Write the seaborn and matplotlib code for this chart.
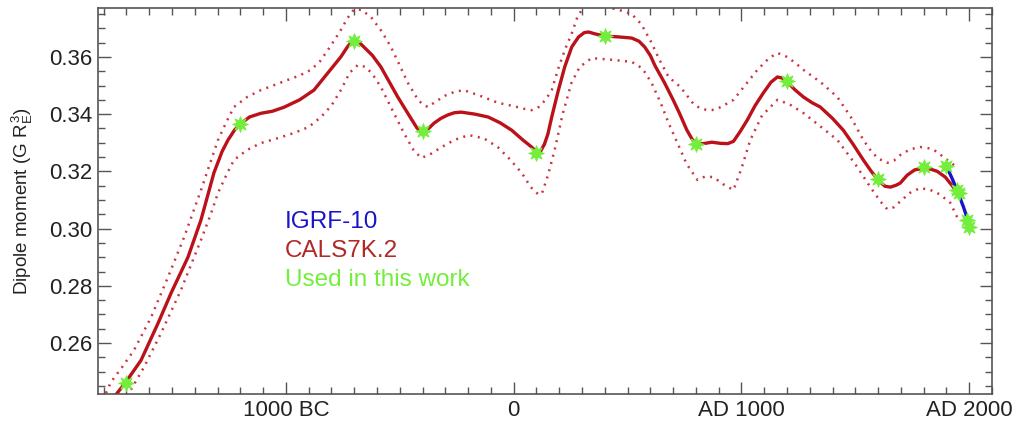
import numpy as np
import pandas as pd
import matplotlib
matplotlib.use("Agg")
import matplotlib.pyplot as plt
import seaborn as sns

# ---- data ----
cals_year = [-1800, -1746, -1706, -1636, -1561, -1504, -1430, -1373, -1316, -1280,
             -1254, -1225, -1200, -1160, -1110, -1060, -1009, -940, -877, -816,
             -759, -730, -706, -680, -658, -620, -583, -509, -447, -425,
             -406, -380, -349, -320, -290, -260, -230, -170, -112, -60,
             -9, 40, 79, 100, 115, 135, 150, 167, 195, 224,
             255, 285, 310, 329, 360, 399, 460, 518, 550, 575,
             600, 620, 662, 700, 728, 760, 785, 807, 840, 870,
             908, 940, 965, 995, 1026, 1060, 1096, 1130, 1158, 1180,
             1202, 1235, 1272, 1310, 1346, 1400, 1447, 1490, 1535, 1570,
             1601, 1630, 1654, 1680, 1697, 1728, 1760, 1798, 1830, 1860,
             1895, 1925, 1950]
cals_val = [0.2375, 0.242, 0.246, 0.254, 0.267, 0.2775, 0.290, 0.303, 0.3195, 0.327,
            0.331, 0.3345, 0.3366, 0.3390, 0.3403, 0.3410, 0.3424, 0.345, 0.3484, 0.3544,
            0.360, 0.3635, 0.3658, 0.3652, 0.3635, 0.3605, 0.3565, 0.346, 0.338, 0.3352,
            0.3337, 0.3345, 0.3369, 0.3385, 0.3397, 0.3405, 0.3407, 0.340, 0.339, 0.337,
            0.3344, 0.331, 0.3285, 0.3268, 0.3266, 0.3295, 0.333, 0.339, 0.348, 0.3565,
            0.3635, 0.367, 0.3685, 0.3687, 0.368, 0.3673, 0.367, 0.3666, 0.3655, 0.3635,
            0.3605, 0.357, 0.351, 0.345, 0.3403, 0.3345, 0.331, 0.3295, 0.3298, 0.3302,
            0.3298, 0.3297, 0.3305, 0.334, 0.338, 0.343, 0.3474, 0.3512, 0.353, 0.3526,
            0.3512, 0.3485, 0.346, 0.344, 0.3425, 0.3385, 0.3344, 0.3295, 0.324, 0.3200,
            0.3169, 0.3148, 0.3145, 0.3152, 0.3159, 0.3187, 0.3205, 0.3211, 0.3208, 0.320,
            0.3180, 0.3150, 0.3125]

upper_year = [-1790, -1768, -1720, -1667, -1592, -1518, -1447, -1373, -1330, -1298,
              -1260, -1228, -1170, -1110, -1050, -991, -940, -890, -850, -816,
              -790, -759, -730, -702, -670, -627, -580, -539, -500, -465,
              -420, -400, -377, -340, -300, -260, -219, -150, -70, 0,
              50, 79, 110, 140, 167, 200, 230, 254, 280, 311,
              350, 400, 460, 518, 560, 605, 640, 680, 732, 790,
              820, 851, 880, 910, 965, 1020, 1070, 1120, 1158, 1200,
              1235, 1272, 1350, 1421, 1480, 1535, 1570, 1600, 1640, 1670,
              1697, 1740, 1785, 1830, 1860, 1886, 1920, 1952]
upper_val = [0.2425, 0.2464, 0.2515, 0.2575, 0.269, 0.283, 0.297, 0.3134, 0.3235, 0.331,
             0.3375, 0.3425, 0.3460, 0.3484, 0.3502, 0.352, 0.3535, 0.3555, 0.3585, 0.3624,
             0.3655, 0.3694, 0.3735, 0.3765, 0.3765, 0.374, 0.369, 0.3635, 0.357, 0.351,
             0.345, 0.3435, 0.3425, 0.3445, 0.3465, 0.3478, 0.3484, 0.3465, 0.344, 0.3428,
             0.3418, 0.3414, 0.3425, 0.345, 0.3484, 0.357, 0.3635, 0.368, 0.374, 0.378,
             0.3785, 0.3775, 0.3765, 0.375, 0.3715, 0.365, 0.359, 0.353, 0.3495, 0.3435,
             0.342, 0.3414, 0.3415, 0.3425, 0.345, 0.3505, 0.3555, 0.3595, 0.3614, 0.360,
             0.358, 0.3555, 0.351, 0.346, 0.339, 0.331, 0.327, 0.3245, 0.323, 0.3238,
             0.3257, 0.3277, 0.3285, 0.328, 0.3268, 0.325, 0.323, 0.3211]

lower_year = [-1720, -1689, -1623, -1548, -1461, -1373, -1330, -1298, -1260, -1228,
              -1170, -1110, -1040, -965, -900, -846, -800, -759, -720, -684,
              -650, -620, -583, -530, -482, -440, -406, -370, -316, -260,
              -197, -130, -70, -20, 35, 75, 110, 125, 150, 180,
              215, 254, 290, 342, 430, 518, 565, 605, 645, 680,
              719, 760, 807, 840, 877, 920, 965, 1000, 1039, 1090,
              1158, 1210, 1272, 1350, 1421, 1500, 1566, 1610, 1640, 1670,
              1697, 1740, 1785, 1830, 1870, 1917, 1947]
lower_val = [0.2395, 0.2425, 0.2516, 0.2635, 0.2785, 0.296, 0.305, 0.3125, 0.319, 0.324,
             0.3275, 0.3299, 0.3315, 0.3334, 0.3355, 0.339, 0.343, 0.3484, 0.3545, 0.3572,
             0.3565, 0.354, 0.3495, 0.341, 0.3334, 0.3275, 0.3247, 0.3258, 0.3285, 0.331,
             0.3327, 0.3315, 0.3285, 0.3245, 0.3195, 0.3145, 0.3118, 0.3125, 0.3185, 0.3275,
             0.340, 0.351, 0.3565, 0.3596, 0.359, 0.3583, 0.3560, 0.351, 0.344, 0.3369,
             0.3299, 0.3225, 0.317, 0.3182, 0.318, 0.3155, 0.3135, 0.321, 0.331, 0.3395,
             0.345, 0.3435, 0.3404, 0.3355, 0.331, 0.3225, 0.3145, 0.3095, 0.3068, 0.3075,
             0.3095, 0.3125, 0.3142, 0.3135, 0.312, 0.309, 0.304]

igrf_year = [1900, 1925, 1950, 1975, 2000, 2005]
igrf_val = [0.3218, 0.3175, 0.3128, 0.3075, 0.3015, 0.3005]

used_year = [-1700, -1200, -700, -400, 100, 400, 800, 1200, 1600, 1800,
             1900, 1945, 1955, 1990, 2000]
used_val = [0.246, 0.3366, 0.3656, 0.334, 0.3264, 0.3673, 0.3295, 0.3516, 0.3172, 0.3214,
            0.3218, 0.3135, 0.3125, 0.3030, 0.3007]

xtick_vals = [-1000, 0, 1000, 2000]
xtick_labels = ["1000 BC", "0", "AD 1000", "AD 2000"]
ytick_vals = [0.26, 0.28, 0.30, 0.32, 0.34, 0.36]

legend_labels = ["IGRF-10", "CALS7K.2", "Used in this work"]

# ---- style ----
sns.set_style("ticks")
plt.rcParams['font.family'] = ['Liberation Sans', 'DejaVu Sans']
plt.rcParams['mathtext.fontset'] = 'custom'
plt.rcParams['mathtext.rm'] = 'Liberation Sans'
plt.rcParams['mathtext.it'] = 'Liberation Sans'

RED = '#bb1119'
DOT = '#cc3340'
BLUE = '#1a14c8'
GREEN = '#74ee3c'
GRAY = '#555555'

fig = plt.figure(figsize=(10.15, 4.23), dpi=100)
ax = fig.add_axes([98 / 1015, 1 - 394 / 423, (992 - 98) / 1015, (394 - 8) / 423])

df_c = pd.DataFrame({"year": cals_year, "val": cals_val})
df_u = pd.DataFrame({"year": upper_year, "val": upper_val})
df_l = pd.DataFrame({"year": lower_year, "val": lower_val})
df_i = pd.DataFrame({"year": igrf_year, "val": igrf_val})
df_g = pd.DataFrame({"year": used_year, "val": used_val})

dots = (0, (0.8, 2.2))
sns.lineplot(data=df_u, x="year", y="val", ax=ax, color=DOT, lw=1.8, linestyle=dots, sort=False)
sns.lineplot(data=df_l, x="year", y="val", ax=ax, color=DOT, lw=1.8, linestyle=dots, sort=False)
sns.lineplot(data=df_c, x="year", y="val", ax=ax, color=RED, lw=2.4, sort=False)
sns.lineplot(data=df_i, x="year", y="val", ax=ax, color=BLUE, lw=2.4, sort=False)
sns.scatterplot(data=df_g, x="year", y="val", ax=ax, color=GREEN, marker=(8, 1, 0), s=130,
                linewidth=0.6, edgecolor=GREEN, zorder=5)

ax.set_xlim(-1825, 2100)
ax.set_ylim(0.2422, 0.3771)

ax.set_xticks(xtick_vals)
ax.set_xticklabels(xtick_labels)
ax.set_xticks(np.arange(-1800, 2101, 100), minor=True)
ax.set_yticks(ytick_vals)
ax.set_yticklabels([f"{v:.2f}" for v in ytick_vals])
ax.set_yticks(np.arange(0.245, 0.3771, 0.005), minor=True)

ax.tick_params(which='both', direction='in', top=True, right=True, color=GRAY,
               width=1.0, labelcolor='#222222', labelsize=16)
ax.tick_params(which='major', length=9)
ax.tick_params(which='minor', length=5)
ax.tick_params(axis='x', which='major', pad=4)
ax.tick_params(axis='y', which='major', pad=4)
for sp in ax.spines.values():
    sp.set_color(GRAY)
    sp.set_linewidth(1.2)

ax.set_xlabel("")
ax.set_ylabel(r"Dipole moment (G R$_\mathrm{E}^{\,3}$)", fontsize=13.5, color='#222222', labelpad=10)

leg_colors = [BLUE, '#b02828', GREEN]
leg_y = [0.3024, 0.2923, 0.2822]
for lab, c, yy in zip(legend_labels, leg_colors, leg_y):
    ax.text(-1005, yy, lab, color=c, fontsize=17.5, ha='left', va='center')

fig.savefig("out.png", dpi=100)
